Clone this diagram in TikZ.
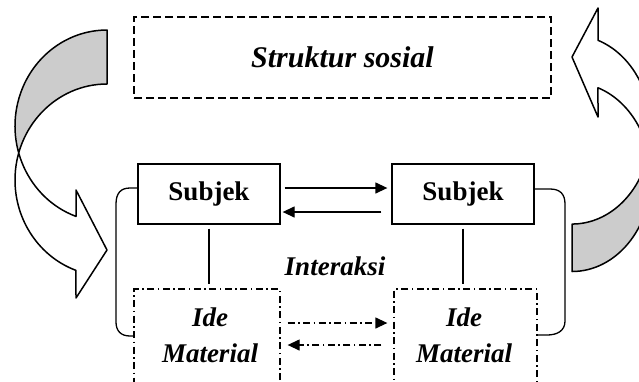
\documentclass[tikz,border=0pt]{standalone}
\usepackage{fontspec}
\setmainfont{Liberation Serif}
\usetikzlibrary{arrows.meta}

\definecolor{ribbon}{RGB}{204,204,204}

\begin{document}
\begin{tikzpicture}[x=1pt,y=-1pt,
  subjbox/.style={draw, line width=1.3pt, minimum width=142pt, minimum height=60pt,
    inner sep=0pt, font=\fontsize{27}{32}\selectfont\bfseries},
  structbox/.style={draw, line width=1.3pt, dash pattern=on 8pt off 4pt,
    minimum width=417pt, minimum height=81pt, inner sep=0pt,
    font=\fontsize{30}{34}\selectfont\bfseries\itshape},
  idebox/.style={draw, line width=1.3pt, dash pattern=on 7pt off 3.5pt on 1.5pt off 3.5pt,
    minimum height=131pt, inner sep=0pt},
  bodytext/.style={font=\fontsize{27}{36}\selectfont\bfseries\itshape, align=center, inner sep=0pt},
  arr/.style={line width=1.3pt, -{Triangle[length=12pt,width=11pt]}},
  dasharr/.style={arr, dash pattern=on 7pt off 3.5pt on 1.5pt off 3.5pt},
  link/.style={line width=1.3pt},
  ribbonline/.style={line width=1.5pt, line join=round},
]
\clip (0,0) rectangle (639,381);

% top box
\node[structbox] (struct) at (342.5,57.5) {Struktur sosial};

% the two subjects
\node[subjbox] (s1) at (209,194) {Subjek};
\node[subjbox] (s2) at (463,194) {Subjek};

% idea / material boxes (run past the lower edge)
\node[idebox, minimum width=146pt] (ide1) at (207,354.5) {};
\node[idebox, minimum width=143pt] (ide2) at (465.5,354.5) {};
\node[bodytext] (ide1txt) at (210,335) {Ide\\Material};
\node[bodytext] (ide2txt) at (464,335) {Ide\\Material};

\node[bodytext] (inter) at (335,266) {Interaksi};

% arrows between the subjects
\draw[arr, shorten <=4pt, shorten >=4pt] ([yshift=6pt]s1.east) -- ([yshift=6pt]s2.west);
\draw[arr, shorten <=10pt, shorten >=2pt] ([yshift=-18pt]s2.west) -- ([yshift=-18pt]s1.east);

% arrows between the idea boxes
\draw[dasharr, shorten <=7pt, shorten >=6pt] ([yshift=31.5pt]ide1.east) -- ([yshift=31.5pt]ide2.west);
\draw[dasharr, shorten <=12pt, shorten >=7pt] ([yshift=9.5pt]ide2.west) -- ([yshift=9.5pt]ide1.east);

% vertical links
\draw[link, shorten <=4pt, shorten >=4pt] (s1.south) -- (s1.south |- ide1.north);
\draw[link, shorten <=4pt, shorten >=4pt] (s2.south) -- (s2.south |- ide2.north);

% brackets
\draw[link] ([yshift=6pt]s1.west) -- (130,188)
  .. controls (121,188) and (116,193) .. (116,204) -- (116,322)
  .. controls (116,331) and (121,336) .. (130,336) -- ([yshift=18.5pt]ide1.west);
\draw[link] ([yshift=5pt]s2.east) -- (550,189)
  .. controls (560,189) and (565,194) .. (565,204) -- (565,321)
  .. controls (565,331) and (557,335) .. (547,335) -- ([yshift=19.5pt]ide2.east);

% left curved arrow: shaded back of the ribbon, then the outline
\fill[ribbon] (107,30) arc[start angle=-90, end angle=-196.33, x radius=92, y radius=96]
  arc[start angle=-163.67, end angle=-90, x radius=92, y radius=96] -- cycle;
\draw[ribbonline] (107,84) arc[start angle=-90, end angle=-250.3, x radius=92, y radius=96]
  -- (76,298) -- (107,250) -- (76,190) -- (76,216.4)
  arc[start angle=-250.3, end angle=-90, x radius=92, y radius=96] -- cycle;

% right curved arrow
\fill[ribbon] (572,224) arc[start angle=90, end angle=14.55, x radius=79, y radius=94.5]
  arc[start angle=-14.55, end angle=90, x radius=79, y radius=94.5] -- cycle;
\draw[ribbonline] (572,271.5) arc[start angle=90, end angle=-70.8, x radius=79, y radius=94.5]
  -- (598,117) -- (572,57) -- (598,8) -- (598,40.3)
  arc[start angle=-70.8, end angle=90, x radius=79, y radius=94.5] -- cycle;
\end{tikzpicture}
\end{document}
